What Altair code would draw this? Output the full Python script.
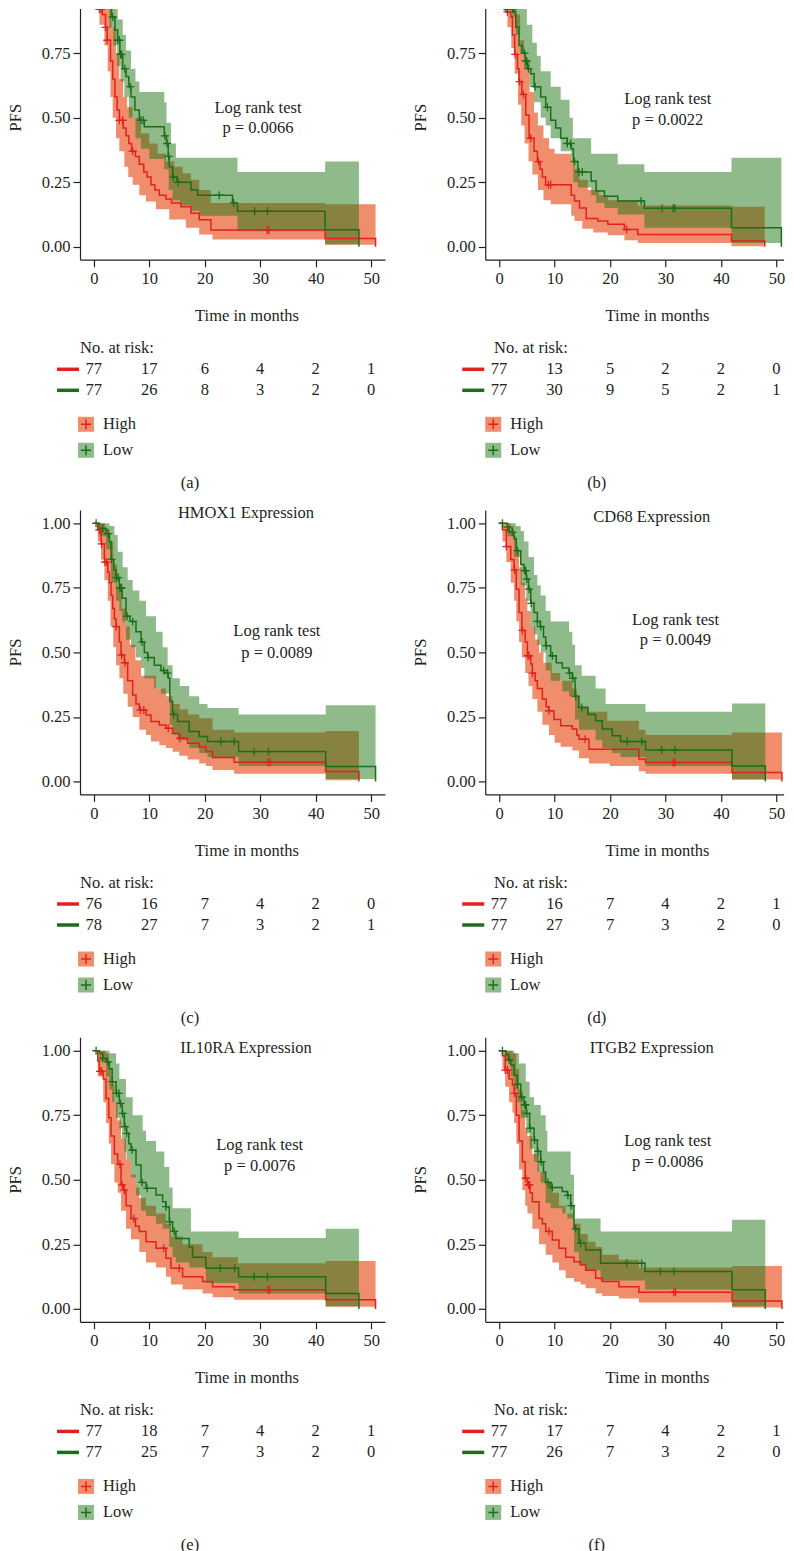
import altair as alt
import pandas as pd

# ---------------- data ----------------
RISK_TIMES = [0, 10, 20, 30, 40, 50]

CAPTIONS = ["(a)", "(b)", "(c)", "(d)", "(e)", "(f)"]
TITLES = ["", "", "HMOX1 Expression", "CD68 Expression", "IL10RA Expression", "ITGB2 Expression"]
P_VALUES = ["0.0066", "0.0022", "0.0089", "0.0049", "0.0076", "0.0086"]
# (time, value of "Log rank test" line, value of p line)
NOTE_POS = [(29.6, 0.539, 0.461), (30.4, 0.571, 0.491), (33.0, 0.581, 0.497),
            (31.8, 0.627, 0.549), (29.9, 0.633, 0.552), (30.4, 0.650, 0.570)]

RISK_HIGH = [[77, 17, 6, 4, 2, 1], [77, 13, 5, 2, 2, 0], [76, 16, 7, 4, 2, 0],
             [77, 16, 7, 4, 2, 1], [77, 18, 7, 4, 2, 1], [77, 17, 7, 4, 2, 1]]
RISK_LOW = [[77, 26, 8, 3, 2, 0], [77, 30, 9, 5, 2, 1], [78, 27, 7, 3, 2, 1],
            [77, 27, 7, 3, 2, 0], [77, 25, 7, 3, 2, 0], [77, 26, 7, 3, 2, 0]]

# ---- panel (a)
A_HIGH_KM = [(0, 1.0), (0.5, 0.97), (1.0, 0.92), (1.5, 0.9), (2.1, 0.85), (2.4, 0.8), (3.0, 0.72), (3.4, 0.65),
             (3.8, 0.58), (4.2, 0.53), (4.6, 0.49), (5.3, 0.46), (5.8, 0.43), (6.3, 0.40), (6.8, 0.37), (7.5, 0.35),
             (8.2, 0.32), (9.0, 0.29), (9.6, 0.27), (10.3, 0.24), (11.0, 0.22), (11.8, 0.20), (13.0, 0.185),
             (14.0, 0.17), (15.7, 0.155), (17.5, 0.13), (19.0, 0.105), (21.1, 0.065), (41.7, 0.032), (50.8, 0.0)]
A_HIGH_LO = [(0, 1.0), (0.5, 0.93), (1.0, 0.86), (1.9, 0.78), (2.5, 0.68), (3.0, 0.58), (3.4, 0.5), (4.0, 0.42),
             (4.6, 0.37), (5.5, 0.31), (6.2, 0.27), (7.0, 0.24), (8.2, 0.2), (9.4, 0.175), (11.2, 0.145),
             (13.6, 0.106), (16.6, 0.074), (19.0, 0.048), (21.4, 0.028), (41.7, 0.008), (50.8, 0.008)]
A_HIGH_HI = [(0, 1.0), (2.5, 0.93), (3.2, 0.85), (4.0, 0.75), (4.6, 0.65), (5.3, 0.58), (6.0, 0.54), (7.0, 0.50),
             (8.5, 0.44), (10.0, 0.40), (11.5, 0.36), (13.0, 0.33), (14.5, 0.31), (16.0, 0.285), (17.5, 0.26),
             (19.0, 0.22), (21.1, 0.17), (41.7, 0.165), (50.8, 0.165)]
A_HIGH_CENS = [1.0, 1.3, 2.1, 2.4, 4.6, 5.2, 7.0, 31.3, 31.6]
A_LOW_KM = [(0, 1.0), (1.5, 0.985), (2.2, 0.96), (2.8, 0.93), (3.2, 0.89), (3.8, 0.84), (4.3, 0.80), (4.7, 0.745),
            (5.2, 0.69), (5.8, 0.66), (6.3, 0.62), (6.7, 0.58), (7.4, 0.53), (8.2, 0.49), (9.1, 0.465),
            (12.7, 0.43), (13.1, 0.40), (13.4, 0.35), (13.6, 0.31), (14.2, 0.27), (15.0, 0.25), (17.5, 0.22),
            (18.7, 0.20), (25.0, 0.17), (25.9, 0.138), (41.7, 0.066), (47.8, 0.0)]
A_LOW_LO = [(0, 1.0), (2.0, 0.93), (2.8, 0.85), (3.5, 0.78), (4.2, 0.70), (4.8, 0.64), (5.5, 0.58), (6.3, 0.50),
            (7.5, 0.42), (8.5, 0.38), (10.0, 0.34), (12.7, 0.30), (13.5, 0.22), (14.2, 0.18), (15.5, 0.16),
            (17.5, 0.14), (19.0, 0.12), (25.9, 0.06), (41.7, 0.01), (47.8, 0.0)]
A_LOW_HI = [(0, 1.0), (3.5, 0.95), (4.3, 0.88), (5.2, 0.82), (5.8, 0.76), (6.7, 0.69), (7.5, 0.64), (8.2, 0.60),
            (12.7, 0.56), (13.1, 0.48), (13.9, 0.40), (14.8, 0.345), (25.9, 0.29), (41.7, 0.33), (47.8, 0.33)]
A_LOW_CENS = [3.4, 4.3, 4.6, 4.8, 5.0, 5.6, 6.6, 8.5, 8.9, 12.8, 13.2, 13.5, 14.3, 15.2, 22.6, 25.2, 29.0, 31.3]

# ---- panel (b)
B_HIGH_KM = [(0, 1.0), (0.8, 0.94), (1.2, 0.91), (2.1, 0.89), (2.4, 0.82), (2.8, 0.745), (3.3, 0.69), (3.6, 0.64),
             (4.1, 0.59), (4.8, 0.51), (5.4, 0.42), (6.3, 0.37), (6.9, 0.33), (7.4, 0.30), (7.8, 0.27), (8.4, 0.24),
             (13.0, 0.2), (13.6, 0.177), (14.5, 0.15), (15.7, 0.11), (17.8, 0.10), (19.6, 0.087), (22.6, 0.067),
             (25.0, 0.048), (41.9, 0.022), (47.9, 0.0)]
B_HIGH_LO = [(0, 1.0), (0.8, 0.92), (1.5, 0.85), (2.2, 0.77), (2.8, 0.67), (3.4, 0.55), (4.0, 0.47), (4.6, 0.40),
             (5.3, 0.33), (6.0, 0.28), (7.0, 0.22), (8.0, 0.18), (9.3, 0.165), (13.0, 0.12), (13.6, 0.1),
             (15.0, 0.07), (17.0, 0.055), (19.6, 0.045), (22.6, 0.025), (25.0, 0.015), (41.9, 0.002), (47.9, 0.0)]
B_HIGH_HI = [(0, 1.0), (2.0, 0.97), (3.0, 0.9), (3.8, 0.8), (4.5, 0.72), (5.5, 0.6), (6.3, 0.52), (7.0, 0.47),
             (8.0, 0.42), (9.0, 0.38), (10.0, 0.36), (13.0, 0.33), (13.6, 0.30), (14.5, 0.26), (16.0, 0.22),
             (18.0, 0.2), (19.6, 0.18), (25.0, 0.16), (41.9, 0.155), (47.9, 0.155)]
B_HIGH_CENS = [0.9, 1.5, 2.9, 3.7, 4.4, 5.7, 7.1, 8.9, 9.3, 23.0]
B_LOW_KM = [(0, 1.0), (0.8, 0.96), (1.5, 0.92), (2.6, 0.91), (3.0, 0.85), (3.6, 0.78), (4.2, 0.75), (4.7, 0.72),
            (5.1, 0.69), (5.7, 0.67), (6.3, 0.62), (7.5, 0.58), (8.4, 0.54), (9.3, 0.49), (10.2, 0.46),
            (11.1, 0.42), (12.3, 0.40), (13.0, 0.38), (13.4, 0.33), (14.2, 0.29), (16.6, 0.255), (17.5, 0.216),
            (19.0, 0.196), (21.4, 0.177), (26.2, 0.149), (41.9, 0.074), (50.9, 0.0)]
B_LOW_LO = [(0, 1.0), (1.5, 0.95), (2.4, 0.89), (3.0, 0.82), (3.8, 0.75), (4.5, 0.69), (5.5, 0.62), (6.3, 0.56),
            (7.5, 0.5), (8.4, 0.47), (9.3, 0.42), (11.1, 0.37), (13.0, 0.33), (13.4, 0.25), (14.2, 0.23),
            (16.6, 0.2), (17.5, 0.17), (19.0, 0.15), (21.4, 0.125), (26.2, 0.074), (41.9, 0.015), (50.9, 0.015)]
B_LOW_HI = [(0, 1.0), (3.0, 0.97), (4.0, 0.93), (5.0, 0.86), (6.0, 0.79), (6.8, 0.74), (7.5, 0.68), (9.3, 0.62),
            (11.1, 0.57), (12.7, 0.50), (13.3, 0.42), (16.6, 0.36), (21.4, 0.32), (26.2, 0.29), (41.9, 0.345),
            (50.9, 0.345)]
B_LOW_CENS = [1.5, 2.4, 4.6, 4.8, 5.0, 5.3, 6.5, 8.7, 12.3, 12.9, 13.6, 14.4, 15.0, 25.6, 29.4, 31.4, 31.7]

# ---- panel (c)
C_HIGH_KM = [(0, 1.0), (0.7, 0.975), (1.3, 0.92), (1.9, 0.85), (2.5, 0.81), (2.8, 0.77), (3.1, 0.72), (3.4, 0.67),
             (3.7, 0.63), (4.0, 0.60), (4.6, 0.54), (4.9, 0.49), (5.5, 0.46), (6.1, 0.39), (7.0, 0.335), (7.6, 0.30),
             (8.2, 0.277), (9.4, 0.258), (10.3, 0.232), (11.8, 0.219), (13.0, 0.206), (14.2, 0.187), (15.4, 0.168),
             (16.9, 0.148), (19.0, 0.135), (20.2, 0.116), (21.4, 0.093), (25.3, 0.075), (41.8, 0.039), (47.8, 0.0)]
C_HIGH_LO = [(0, 1.0), (0.7, 0.93), (1.3, 0.86), (1.9, 0.78), (2.5, 0.70), (3.0, 0.6), (3.5, 0.52), (4.0, 0.45),
             (4.6, 0.40), (5.3, 0.34), (6.1, 0.29), (7.0, 0.25), (8.2, 0.2), (9.4, 0.18), (10.3, 0.155),
             (11.8, 0.14), (13.0, 0.13), (14.2, 0.115), (15.4, 0.1), (16.9, 0.085), (19.0, 0.07), (20.2, 0.06),
             (21.4, 0.045), (25.3, 0.03), (41.8, 0.005), (47.8, 0.005)]
C_HIGH_HI = [(0, 1.0), (2.0, 0.98), (2.8, 0.93), (3.5, 0.84), (4.2, 0.75), (5.0, 0.67), (5.8, 0.60), (6.5, 0.53),
             (7.5, 0.47), (8.5, 0.41), (11.2, 0.36), (13.0, 0.33), (14.2, 0.30), (15.5, 0.28), (17.0, 0.26),
             (19.0, 0.245), (21.4, 0.2), (25.3, 0.19), (41.8, 0.196), (47.8, 0.196)]
C_HIGH_CENS = [1.0, 1.4, 2.0, 2.3, 4.0, 5.0, 5.6, 8.4, 9.0, 13.4, 15.5, 31.4, 31.8]
C_LOW_KM = [(0, 1.0), (1.0, 0.98), (2.2, 0.96), (2.8, 0.93), (3.1, 0.86), (3.6, 0.82), (4.0, 0.79), (4.6, 0.75),
            (5.1, 0.71), (5.8, 0.64), (6.5, 0.62), (7.6, 0.58), (8.5, 0.54), (9.1, 0.50), (9.7, 0.48), (10.9, 0.45),
            (12.1, 0.43), (12.7, 0.42), (13.4, 0.40), (13.7, 0.31), (14.2, 0.26), (15.1, 0.232), (17.2, 0.194),
            (19.0, 0.174), (20.5, 0.155), (26.1, 0.116), (41.8, 0.058), (50.8, 0.0)]
C_LOW_LO = [(0, 1.0), (1.0, 0.95), (2.2, 0.9), (3.1, 0.77), (4.0, 0.7), (4.6, 0.66), (5.1, 0.62), (5.8, 0.55),
            (6.7, 0.52), (7.6, 0.48), (8.5, 0.44), (9.1, 0.40), (10.9, 0.36), (12.1, 0.34), (13.7, 0.22),
            (14.2, 0.18), (15.1, 0.16), (17.2, 0.13), (19.0, 0.11), (20.5, 0.095), (26.1, 0.06), (41.8, 0.01),
            (50.8, 0.0)]
C_LOW_HI = [(0, 1.0), (2.8, 0.99), (3.7, 0.955), (4.3, 0.89), (5.2, 0.83), (6.1, 0.78), (7.0, 0.74), (8.2, 0.70),
            (9.4, 0.64), (11.2, 0.58), (12.4, 0.52), (13.3, 0.45), (14.2, 0.40), (15.5, 0.37), (17.2, 0.33),
            (19.0, 0.3), (20.5, 0.285), (26.1, 0.26), (41.8, 0.295), (50.8, 0.295)]
C_LOW_CENS = [0.4, 1.6, 2.6, 3.2, 4.1, 4.4, 4.7, 4.9, 5.0, 6.0, 7.0, 8.7, 9.8, 12.6, 13.3, 14.4, 22.9, 25.3,
              28.9, 31.5]

# ---- panel (d)
D_HIGH_KM = [(0, 1.0), (0.6, 0.975), (1.3, 0.91), (2.1, 0.86), (2.7, 0.82), (3.1, 0.745), (3.6, 0.655),
             (4.1, 0.585), (4.7, 0.54), (5.1, 0.487), (5.7, 0.455), (6.0, 0.42), (6.5, 0.39), (6.9, 0.36),
             (7.8, 0.32), (8.5, 0.29), (9.0, 0.274), (9.9, 0.24), (11.1, 0.216), (13.2, 0.203), (14.0, 0.18),
             (14.4, 0.164), (16.2, 0.125), (25.2, 0.087), (26.4, 0.074), (42.0, 0.035), (51.0, 0.0)]
D_HIGH_LO = [(0, 1.0), (0.6, 0.93), (1.3, 0.85), (2.1, 0.77), (2.7, 0.7), (3.1, 0.62), (3.6, 0.54), (4.1, 0.48),
             (4.7, 0.42), (5.3, 0.37), (6.0, 0.32), (6.9, 0.27), (7.8, 0.22), (9.0, 0.18), (10.0, 0.15),
             (11.1, 0.135), (13.2, 0.12), (14.4, 0.09), (16.2, 0.07), (20.0, 0.06), (25.2, 0.04), (26.4, 0.03),
             (42.0, 0.008), (51.0, 0.008)]
D_HIGH_HI = [(0, 1.0), (2.1, 0.99), (2.7, 0.95), (3.1, 0.9), (3.6, 0.83), (4.1, 0.77), (4.7, 0.71), (5.1, 0.66),
             (5.7, 0.6), (6.5, 0.55), (7.2, 0.5), (8.0, 0.46), (9.5, 0.42), (11.0, 0.39), (13.2, 0.36),
             (14.0, 0.33), (14.4, 0.29), (16.2, 0.27), (19.5, 0.235), (25.2, 0.2), (26.4, 0.18), (42.0, 0.19),
             (51.0, 0.19)]
D_HIGH_CENS = [1.3, 2.8, 4.2, 5.2, 5.4, 6.0, 9.0, 15.5, 31.4, 31.7]
D_LOW_KM = [(0, 1.0), (1.5, 0.985), (1.8, 0.965), (2.7, 0.94), (3.1, 0.894), (3.9, 0.84), (4.5, 0.817),
            (4.9, 0.784), (5.3, 0.745), (5.7, 0.69), (6.3, 0.655), (6.9, 0.62), (7.4, 0.60), (8.0, 0.56),
            (8.4, 0.526), (9.3, 0.487), (10.3, 0.46), (11.4, 0.44), (12.6, 0.42), (13.2, 0.40), (13.7, 0.33),
            (14.4, 0.287), (16.0, 0.26), (17.4, 0.235), (18.6, 0.203), (20.4, 0.177), (21.9, 0.155),
            (26.4, 0.122), (42.0, 0.06), (48.0, 0.0)]
D_LOW_LO = [(0, 1.0), (1.5, 0.95), (2.7, 0.87), (3.9, 0.76), (4.9, 0.7), (5.7, 0.6), (6.3, 0.57), (6.9, 0.53),
            (7.5, 0.5), (8.4, 0.43), (9.3, 0.39), (11.4, 0.35), (12.6, 0.33), (13.7, 0.24), (14.4, 0.2),
            (17.4, 0.16), (18.6, 0.13), (20.4, 0.11), (21.9, 0.095), (26.4, 0.06), (42.0, 0.008), (48.0, 0.008)]
D_LOW_HI = [(0, 1.0), (3.0, 0.99), (3.9, 0.97), (4.5, 0.93), (5.3, 0.87), (6.3, 0.80), (6.9, 0.76), (7.5, 0.72),
            (8.4, 0.66), (9.3, 0.62), (12.6, 0.58), (13.2, 0.53), (13.7, 0.45), (14.9, 0.41), (17.4, 0.36),
            (19.2, 0.30), (26.4, 0.27), (42.0, 0.302), (48.0, 0.302)]
D_LOW_CENS = [0.6, 1.5, 2.4, 3.3, 4.6, 4.8, 5.0, 5.4, 5.8, 6.9, 7.5, 8.5, 9.6, 12.7, 13.3, 13.8, 14.9, 23.1,
              25.7, 29.3, 31.7]

# ---- panel (e)
E_HIGH_KM = [(0, 1.0), (0.7, 0.96), (1.0, 0.92), (1.7, 0.89), (2.2, 0.815), (2.7, 0.74), (3.1, 0.67), (3.7, 0.60),
             (4.3, 0.56), (4.9, 0.48), (5.4, 0.46), (5.8, 0.40), (6.7, 0.35), (7.5, 0.32), (8.2, 0.30), (9.4, 0.26),
             (11.2, 0.235), (13.0, 0.196), (13.9, 0.157), (16.0, 0.125), (19.6, 0.106), (21.4, 0.086),
             (25.3, 0.074), (41.8, 0.035), (50.8, 0.0)]
E_HIGH_LO = [(0, 1.0), (0.7, 0.90), (1.7, 0.8), (2.2, 0.72), (2.7, 0.64), (3.1, 0.56), (3.7, 0.49), (4.3, 0.45),
             (4.9, 0.38), (5.8, 0.31), (6.7, 0.27), (8.2, 0.22), (9.4, 0.18), (11.2, 0.16), (13.0, 0.125),
             (13.9, 0.095), (16.0, 0.075), (19.6, 0.06), (21.4, 0.045), (25.3, 0.035), (41.8, 0.008), (50.8, 0.008)]
E_HIGH_HI = [(0, 1.0), (2.2, 0.99), (2.7, 0.93), (3.1, 0.87), (3.7, 0.8), (4.3, 0.73), (4.9, 0.66), (5.8, 0.58),
             (6.7, 0.52), (7.6, 0.47), (8.2, 0.43), (9.4, 0.40), (11.2, 0.37), (13.0, 0.33), (13.9, 0.28),
             (16.0, 0.25), (19.6, 0.22), (21.4, 0.2), (26.0, 0.177), (41.8, 0.186), (50.8, 0.186)]
E_HIGH_CENS = [1.1, 1.4, 4.7, 5.1, 5.5, 7.2, 12.6, 15.4, 31.4, 31.7]
E_LOW_KM = [(0, 1.0), (1.0, 0.99), (1.6, 0.97), (2.2, 0.957), (2.8, 0.93), (3.3, 0.88), (4.0, 0.835), (4.6, 0.796),
            (5.1, 0.757), (5.5, 0.706), (5.9, 0.68), (6.3, 0.64), (6.7, 0.615), (7.6, 0.557), (8.5, 0.49),
            (9.4, 0.467), (11.2, 0.441), (12.4, 0.415), (13.0, 0.396), (13.6, 0.338), (14.2, 0.30), (14.8, 0.273),
            (17.2, 0.24), (17.8, 0.20), (20.2, 0.157), (26.1, 0.125), (41.8, 0.06), (47.8, 0.0)]
E_LOW_LO = [(0, 1.0), (1.0, 0.96), (2.2, 0.9), (2.8, 0.85), (3.3, 0.8), (4.0, 0.74), (4.6, 0.7), (5.1, 0.66),
            (5.5, 0.61), (5.9, 0.58), (6.7, 0.51), (7.6, 0.44), (8.5, 0.38), (9.4, 0.36), (11.2, 0.33),
            (12.4, 0.31), (13.6, 0.24), (14.2, 0.2), (14.8, 0.18), (17.2, 0.16), (20.2, 0.1), (26.1, 0.06),
            (41.8, 0.01), (47.8, 0.0)]
E_LOW_HI = [(0, 1.0), (2.8, 0.99), (4.0, 0.95), (4.6, 0.89), (5.8, 0.82), (7.0, 0.75), (8.8, 0.69), (9.4, 0.65),
            (11.2, 0.61), (12.7, 0.55), (13.6, 0.47), (14.2, 0.39), (17.5, 0.30), (26.1, 0.275), (41.8, 0.31),
            (47.8, 0.31)]
E_LOW_CENS = [0.4, 1.6, 2.5, 3.3, 4.1, 4.5, 4.8, 5.2, 5.6, 5.9, 6.9, 8.7, 9.6, 13.0, 13.7, 14.5, 22.8, 25.4,
              28.9, 31.3]

# ---- panel (f)
F_HIGH_KM = [(0, 1.0), (0.6, 0.98), (1.1, 0.925), (1.8, 0.89), (2.4, 0.867), (2.7, 0.835), (3.1, 0.75),
             (3.6, 0.65), (4.2, 0.57), (4.7, 0.506), (5.1, 0.48), (5.6, 0.45), (6.0, 0.415), (7.2, 0.35),
             (7.8, 0.33), (8.4, 0.30), (9.6, 0.267), (10.8, 0.235), (12.0, 0.2), (13.5, 0.183), (14.7, 0.17),
             (15.6, 0.15), (17.4, 0.119), (18.6, 0.106), (21.6, 0.086), (25.2, 0.065), (42.0, 0.031), (51.0, 0.0)]
F_HIGH_LO = [(0, 1.0), (0.6, 0.93), (1.1, 0.86), (1.8, 0.8), (2.4, 0.76), (2.7, 0.72), (3.1, 0.64), (3.6, 0.54),
             (4.2, 0.46), (4.7, 0.4), (5.1, 0.37), (6.0, 0.31), (7.2, 0.25), (8.4, 0.21), (9.6, 0.18), (10.8, 0.15),
             (12.0, 0.12), (13.5, 0.105), (14.7, 0.095), (15.6, 0.08), (17.4, 0.06), (18.6, 0.05), (21.6, 0.04),
             (25.2, 0.025), (42.0, 0.005), (51.0, 0.005)]
F_HIGH_HI = [(0, 1.0), (2.4, 0.99), (3.1, 0.93), (3.6, 0.85), (4.2, 0.77), (4.7, 0.7), (5.1, 0.67), (6.0, 0.6),
             (7.2, 0.53), (8.4, 0.49), (9.6, 0.45), (10.8, 0.4), (12.0, 0.37), (13.5, 0.33), (14.7, 0.29),
             (16.0, 0.26), (17.4, 0.24), (18.6, 0.21), (21.6, 0.19), (25.2, 0.16), (42.0, 0.166), (51.0, 0.166)]
F_HIGH_CENS = [1.1, 1.5, 2.8, 4.8, 5.3, 5.5, 9.0, 31.5, 31.8]
F_LOW_KM = [(0, 1.0), (1.2, 0.985), (1.7, 0.965), (2.1, 0.945), (2.7, 0.905), (3.3, 0.87), (3.9, 0.82), (4.5, 0.79),
            (4.9, 0.757), (5.5, 0.70), (6.3, 0.654), (6.9, 0.61), (7.5, 0.57), (8.0, 0.53), (8.4, 0.49),
            (9.3, 0.47), (11.4, 0.455), (12.3, 0.44), (12.9, 0.40), (13.5, 0.31), (14.4, 0.254), (15.6, 0.228),
            (18.3, 0.177), (26.3, 0.145), (42.0, 0.074), (48.0, 0.0)]
F_LOW_LO = [(0, 1.0), (1.2, 0.96), (2.1, 0.9), (2.7, 0.85), (3.3, 0.8), (3.9, 0.74), (4.9, 0.68), (5.5, 0.62),
            (6.3, 0.57), (6.9, 0.53), (7.5, 0.49), (8.4, 0.41), (9.3, 0.39), (11.4, 0.37), (12.3, 0.35),
            (13.5, 0.22), (14.4, 0.17), (15.6, 0.15), (18.3, 0.11), (26.3, 0.075), (42.0, 0.01), (48.0, 0.0)]
F_LOW_HI = [(0, 1.0), (2.7, 0.99), (3.6, 0.95), (4.8, 0.88), (5.5, 0.82), (6.3, 0.79), (7.5, 0.75), (8.4, 0.69),
            (8.7, 0.61), (12.9, 0.52), (13.5, 0.35), (18.3, 0.30), (42.0, 0.345), (48.0, 0.345)]
F_LOW_CENS = [0.6, 1.8, 3.3, 4.1, 4.6, 4.8, 5.0, 5.6, 6.4, 7.0, 7.6, 8.8, 9.6, 12.4, 13.0, 13.8, 14.7, 23.0,
              25.7, 29.1, 31.5]

HIGH_SETS = [(A_HIGH_KM, A_HIGH_LO, A_HIGH_HI, A_HIGH_CENS), (B_HIGH_KM, B_HIGH_LO, B_HIGH_HI, B_HIGH_CENS),
             (C_HIGH_KM, C_HIGH_LO, C_HIGH_HI, C_HIGH_CENS), (D_HIGH_KM, D_HIGH_LO, D_HIGH_HI, D_HIGH_CENS),
             (E_HIGH_KM, E_HIGH_LO, E_HIGH_HI, E_HIGH_CENS), (F_HIGH_KM, F_HIGH_LO, F_HIGH_HI, F_HIGH_CENS)]
LOW_SETS = [(A_LOW_KM, A_LOW_LO, A_LOW_HI, A_LOW_CENS), (B_LOW_KM, B_LOW_LO, B_LOW_HI, B_LOW_CENS),
            (C_LOW_KM, C_LOW_LO, C_LOW_HI, C_LOW_CENS), (D_LOW_KM, D_LOW_LO, D_LOW_HI, D_LOW_CENS),
            (E_LOW_KM, E_LOW_LO, E_LOW_HI, E_LOW_CENS), (F_LOW_KM, F_LOW_LO, F_LOW_HI, F_LOW_CENS)]

# ---------------- styling ----------------
FONT = "Liberation Serif"
FS = 16.5
INK = "#231f20"
RED = "#e3211c"
GREEN = "#1b6e1b"
RED_BAND = "#e8501e"
GREEN_BAND = "#1e7814"
CROSS = "M-1,0L1,0M0,-1L0,1"

PPX = 305 / 55.0     # pixels per month
PPU = 258.2          # pixels per unit of PFS
XMIN = -2.5
XMAX_LEFT = 52.5
XMAX_RIGHT = 51.3    # right column kept inside the page width
H_FULL = 284
H_TOP = 257.6        # top row is cropped at its upper edge in the figure
YTOP_FULL = 1.05
YTOP_CROP = 0.921
RIGHT_SHIFT = 2.0    # right column sits a little left of the figure; texts compensate
TITLE_DY = [0, 0, 3, 7, 10.5, 10.5]


def step_val(pairs, t):
    v = pairs[0][1]
    for tt, vv in pairs:
        if tt <= t + 1e-9:
            v = vv
        else:
            break
    return v


def km_df(km):
    return pd.DataFrame({"t": [p[0] for p in km], "s": [p[1] for p in km]})


def band_df(lo, hi):
    ts = sorted(set([p[0] for p in lo] + [p[0] for p in hi]))
    return pd.DataFrame({"t": ts, "lo": [step_val(lo, t) for t in ts], "hi": [step_val(hi, t) for t in ts]})


def cens_df(km, cens):
    return pd.DataFrame({"t": cens, "s": [step_val(km, t) for t in cens]})


def one(label):
    return pd.DataFrame({"label": [label]})


def make_panel(i, top, right):
    H = H_TOP if top else H_FULL
    xmax = XMAX_RIGHT if right else XMAX_LEFT
    Wp = (xmax - XMIN) * PPX
    dx = RIGHT_SHIFT if right else 0.0
    ytop = YTOP_CROP if top else YTOP_FULL
    ybot = ytop - H / PPU
    y0 = ytop * PPU                     # pixel of PFS = 0
    yaxis_px = (ytop + 0.05) * PPU      # pixel of the x-axis line
    gap = H - yaxis_px
    yticks = [v for v in [0, 0.25, 0.5, 0.75, 1.0] if v <= ytop]
    xs = alt.Scale(domain=[XMIN, xmax], nice=False, zero=False)
    ys = alt.Scale(domain=[ybot, ytop], nice=False, zero=False)
    xax_kw = dict(values=RISK_TIMES, format="d", title=None, labelFlush=False)
    if top:
        xax_kw["offset"] = -gap
    xax = alt.Axis(**xax_kw)
    yax = alt.Axis(values=yticks, format=".2f", title=None, labelFlush=False, domain=False)

    def X(f):
        return alt.X(f, type="quantitative", scale=xs, axis=xax)

    def Y(f):
        return alt.Y(f, type="quantitative", scale=ys, axis=yax)

    def T(v):
        return alt.value(v + dx)

    hkm, hlo, hhi, hc = HIGH_SETS[i]
    lkm, llo, lhi, lc = LOW_SETS[i]
    layers = []
    layers.append(alt.Chart(band_df(hlo, hhi)).mark_area(
        interpolate="step-after", color=RED_BAND, opacity=0.65, clip=True
    ).encode(x=X("t"), y=Y("lo"), y2="hi"))
    layers.append(alt.Chart(band_df(llo, lhi)).mark_area(
        interpolate="step-after", color=GREEN_BAND, opacity=0.5, clip=True
    ).encode(x=X("t"), y=Y("lo"), y2="hi"))
    layers.append(alt.Chart(km_df(hkm)).mark_line(
        interpolate="step-after", color=RED, strokeWidth=1.5, clip=True
    ).encode(x=X("t"), y=Y("s")))
    layers.append(alt.Chart(km_df(lkm)).mark_line(
        interpolate="step-after", color=GREEN, strokeWidth=1.5, clip=True
    ).encode(x=X("t"), y=Y("s")))
    layers.append(alt.Chart(cens_df(hkm, hc)).mark_point(
        shape=CROSS, filled=False, stroke=RED, strokeWidth=1.3, size=64, opacity=1, clip=True
    ).encode(x=X("t"), y=Y("s")))
    layers.append(alt.Chart(cens_df(lkm, lc)).mark_point(
        shape=CROSS, filled=False, stroke=GREEN, strokeWidth=1.3, size=64, opacity=1, clip=True
    ).encode(x=X("t"), y=Y("s")))

    # y-axis line (stops at the x-axis)
    layers.append(alt.Chart(one("")).mark_rule(color=INK, strokeWidth=1.2).encode(
        x=alt.value(0.5), y=alt.value(0), y2=alt.value(yaxis_px + 0.5)))

    nt, nv1, nv2 = NOTE_POS[i]
    note = pd.DataFrame({"t": [nt, nt], "v": [nv1, nv2],
                         "label": ["Log rank test", "p = " + P_VALUES[i]]})
    layers.append(alt.Chart(note).mark_text(font=FONT, fontSize=FS, color=INK, baseline="middle").encode(
        x=X("t"), y=Y("v"), text="label:N"))

    pfs = pd.DataFrame({"v": [0.5], "label": ["PFS"]})
    layers.append(alt.Chart(pfs).mark_text(font=FONT, fontSize=FS, color=INK, angle=270,
                                           baseline="middle").encode(
        x=alt.value(-64), y=Y("v"), text="label:N"))

    if TITLES[i]:
        layers.append(alt.Chart(one(TITLES[i])).mark_text(font=FONT, fontSize=FS, color=INK,
                                                          baseline="middle").encode(
            x=T(164.5 if right else 166), y=alt.value(TITLE_DY[i]), text="label:N"))

    layers.append(alt.Chart(one("Time in months")).mark_text(font=FONT, fontSize=FS, color=INK,
                                                             baseline="middle").encode(
        x=T(170.3 if right else 167), y=alt.value(y0 + 69), text="label:N"))
    layers.append(alt.Chart(one("No. at risk:")).mark_text(font=FONT, fontSize=FS, color=INK,
                                                           align="left", baseline="middle").encode(
        x=T(6.8 if right else 0), y=alt.value(y0 + 101), text="label:N"))

    for counts, col, dy in [(RISK_HIGH[i], RED, 122.5), (RISK_LOW[i], GREEN, 143.5)]:
        rdf = pd.DataFrame({"t": RISK_TIMES, "n": counts})
        layers.append(alt.Chart(rdf).mark_text(font=FONT, fontSize=FS, color=INK, baseline="middle").encode(
            x=X("t"), y=alt.value(y0 + dy), text="n:Q"))
        layers.append(alt.Chart(one("")).mark_rule(color=col, strokeWidth=3.5).encode(
            x=alt.value(-23), x2=alt.value(-1), y=alt.value(y0 + dy)))

    for lab, band, band_op, col, dy in [("High", RED_BAND, 0.65, RED, 177.5),
                                        ("Low", GREEN_BAND, 0.5, GREEN, 203.5)]:
        layers.append(alt.Chart(one(lab)).mark_rect(color=band, opacity=band_op).encode(
            x=T(-2), x2=T(14), y=alt.value(y0 + dy - 7.5), y2=alt.value(y0 + dy + 7.5)))
        layers.append(alt.Chart(one(lab)).mark_point(
            shape=CROSS, filled=False, stroke=col, strokeWidth=1.5, size=100, opacity=1
        ).encode(x=T(6), y=alt.value(y0 + dy)))
        layers.append(alt.Chart(one(lab)).mark_text(font=FONT, fontSize=FS, color=INK, align="left",
                                                    baseline="middle").encode(
            x=T(23), y=alt.value(y0 + dy), text="label:N"))

    layers.append(alt.Chart(one(CAPTIONS[i])).mark_text(font=FONT, fontSize=FS, color=INK,
                                                        baseline="middle").encode(
        x=T(109.5 if right else 110), y=alt.value(y0 + 236.5), text="label:N"))

    return alt.layer(*layers).properties(width=Wp, height=H)


panels = [make_panel(i, i < 2, i % 2 == 1) for i in range(6)]

chart = alt.concat(
    *panels, columns=2, spacing={"row": 243.4, "column": 102.25 - RIGHT_SHIFT}, bounds="flush", align="each"
).properties(
    padding={"left": 0, "top": 0, "right": 0, "bottom": 0}
).configure_view(stroke=None).configure_axis(
    grid=False, domainColor=INK, domainWidth=1.2, tickColor=INK, tickWidth=1.2, tickSize=7,
    labelFont=FONT, labelFontSize=FS, labelColor=INK, labelPadding=4
).configure_axisY(labelPadding=3)

chart.save("out.html", embed_options={"renderer": "svg", "actions": False})
